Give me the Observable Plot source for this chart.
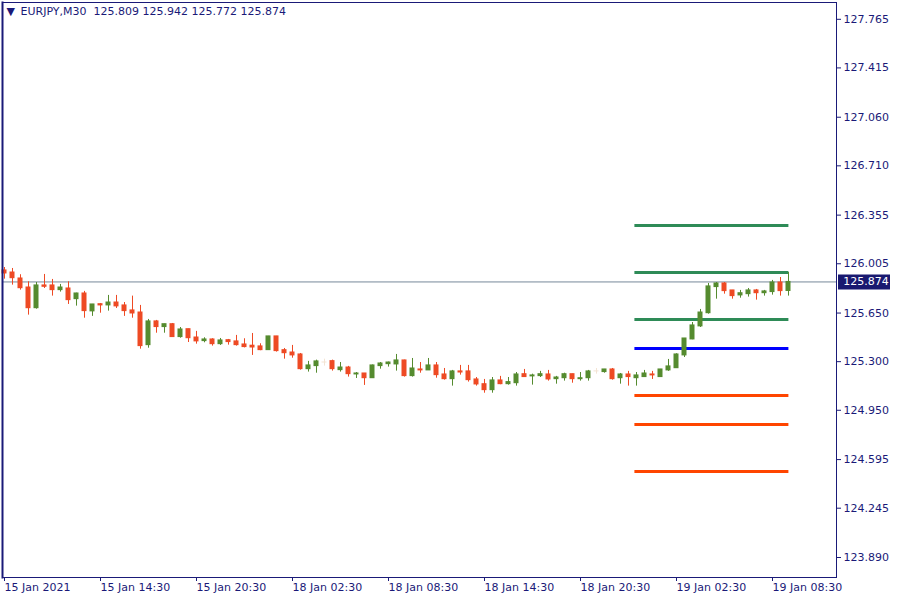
<!DOCTYPE html>
<html><head><meta charset="utf-8">
<script src="https://cdn.jsdelivr.net/npm/d3@7"></script>
<script src="https://cdn.jsdelivr.net/npm/@observablehq/plot@0.6"></script>
<style>html,body{margin:0;padding:0;background:#fff;} #chart svg{display:block}</style>
</head><body><div id="chart"></div>
<script>
const symbol = "EURJPY,M30";
const opens = [125.957,125.942,125.899,125.834,125.685,125.849,125.849,125.815,125.827,125.750,
125.791,125.662,125.714,125.705,125.726,125.705,125.669,125.654,125.419,125.590,
125.549,125.570,125.477,125.534,125.474,125.448,125.460,125.426,125.455,125.446,
125.424,125.415,125.410,125.383,125.482,125.383,125.366,125.352,125.246,125.268,
125.294,125.304,125.239,125.258,125.208,125.215,125.181,125.268,125.282,125.280,
125.309,125.196,125.244,125.237,125.273,125.208,125.174,125.230,125.230,125.172,
125.138,125.095,125.165,125.138,125.145,125.210,125.194,125.196,125.208,125.174,
125.181,125.210,125.174,125.181,125.230,125.225,125.244,125.181,125.208,125.181,
125.189,125.208,125.189,125.237,125.253,125.345,125.460,125.554,125.649,125.837,
125.863,125.813,125.777,125.786,125.813,125.793,125.801,125.870,125.809];
const highs = [125.978,125.971,125.926,125.875,125.870,125.928,125.892,125.856,125.875,125.793,
125.806,125.712,125.719,125.777,125.777,125.726,125.772,125.705,125.604,125.597,
125.570,125.575,125.546,125.534,125.518,125.472,125.465,125.467,125.460,125.489,
125.465,125.503,125.429,125.482,125.482,125.395,125.417,125.359,125.302,125.311,
125.318,125.311,125.294,125.266,125.222,125.215,125.276,125.294,125.297,125.352,
125.311,125.323,125.294,125.323,125.294,125.251,125.237,125.273,125.273,125.186,
125.172,125.186,125.194,125.186,125.222,125.244,125.210,125.230,125.237,125.194,
125.217,125.210,125.222,125.237,125.251,125.244,125.251,125.215,125.230,125.222,
125.237,125.230,125.244,125.316,125.357,125.467,125.582,125.676,125.863,125.870,
125.870,125.813,125.813,125.827,125.820,125.813,125.885,125.906,125.942];
const lows = [125.894,125.851,125.815,125.635,125.678,125.827,125.772,125.801,125.712,125.700,
125.613,125.626,125.649,125.664,125.683,125.626,125.613,125.390,125.397,125.505,
125.505,125.474,125.469,125.438,125.426,125.436,125.412,125.417,125.419,125.412,
125.399,125.345,125.379,125.381,125.369,125.318,125.325,125.239,125.225,125.217,
125.268,125.232,125.225,125.189,125.179,125.129,125.181,125.246,125.261,125.232,
125.189,125.189,125.217,125.237,125.181,125.167,125.124,125.203,125.153,125.124,
125.073,125.073,125.134,125.131,125.124,125.186,125.131,125.186,125.160,125.138,
125.160,125.145,125.160,125.160,125.210,125.217,125.167,125.138,125.124,125.124,
125.189,125.172,125.189,125.230,125.251,125.330,125.458,125.546,125.642,125.750,
125.786,125.750,125.757,125.765,125.743,125.772,125.779,125.772,125.772];
const closes = [125.935,125.901,125.829,125.685,125.849,125.839,125.815,125.834,125.743,125.791,
125.664,125.712,125.705,125.726,125.698,125.664,125.647,125.412,125.590,125.549,
125.570,125.477,125.532,125.469,125.446,125.460,125.426,125.453,125.441,125.419,
125.405,125.402,125.383,125.482,125.376,125.361,125.345,125.246,125.273,125.302,
125.294,125.246,125.258,125.210,125.215,125.181,125.273,125.287,125.294,125.309,
125.196,125.251,125.237,125.273,125.203,125.174,125.230,125.222,125.167,125.136,
125.095,125.165,125.138,125.153,125.208,125.189,125.201,125.210,125.172,125.186,
125.210,125.174,125.181,125.230,125.230,125.244,125.174,125.208,125.189,125.201,
125.215,125.201,125.244,125.266,125.352,125.467,125.561,125.654,125.842,125.863,
125.808,125.772,125.793,125.813,125.793,125.806,125.870,125.808,125.874];

const xTickBars = [0, 12, 24, 36, 48, 60, 72, 84, 96];
const xTickLabels = ["15 Jan 2021","15 Jan 14:30","15 Jan 20:30","18 Jan 02:30","18 Jan 08:30","18 Jan 14:30","18 Jan 20:30","19 Jan 02:30","19 Jan 08:30"];
const yTicks = [123.890,124.245,124.595,124.950,125.300,125.650,126.005,126.355,126.710,127.060,127.415,127.765];

const levelValues = [126.281, 125.942, 125.604, 125.395, 125.057, 124.848, 124.510];
const levelColors = ["#2e8b57","#2e8b57","#2e8b57","#0000ff","#ff4500","#ff4500","#ff4500"];
const levelFromBar = 78.8, levelToBar = 98.05;

const bullColor = "#558b2f", bearColor = "#ee4a24", dojiColor = "#f3e4d4";
const navy = "#1a1a78";

const candles = opens.map((o, i) => ({i, o, h: highs[i], l: lows[i], c: closes[i],
  col: o > closes[i] ? bearColor : (o < closes[i] ? bullColor : dojiColor)}));
const levels = levelValues.map((v, k) => ({v, color: levelColors[k]}));
const last = candles[candles.length - 1];
const labelMap = new Map(xTickBars.map((b, k) => [b, xTickLabels[k]]));
const header = `${symbol}\u00a0\u00a0${last.o.toFixed(3)} ${last.h.toFixed(3)} ${last.l.toFixed(3)} ${last.c.toFixed(3)}`;

const chart = Plot.plot({
  width: 900, height: 600,
  marginLeft: 2, marginRight: 64, marginTop: 2, marginBottom: 23,
  style: {fontFamily: "DejaVu Sans", fontSize: "11px", background: "#fff", color: navy},
  x: {type: "linear", domain: [-0.25, 104], label: null},
  y: {domain: [123.746, 127.886], label: null},
  color: {type: "identity"},
  marks: [
    Plot.ruleY([last.c], {stroke: "#778899", strokeWidth: 1}),
    Plot.ruleY(levels, {y: "v", x1: levelFromBar, x2: levelToBar, stroke: "color", strokeWidth: 3}),
    Plot.ruleX(candles, {x: "i", y1: "l", y2: "h", stroke: "col", strokeWidth: 1}),
    Plot.rect(candles, {x1: d => d.i - 0.3125, x2: d => d.i + 0.3125,
      y1: d => Math.min(d.o, d.c), y2: d => Math.max(d.o, d.c),
      fill: "col", insetTop: -0.5, insetBottom: -0.5}),
    Plot.frame({stroke: navy}),
    Plot.frame({anchor: "left", stroke: navy, strokeWidth: 2}),
    Plot.axisX(xTickBars, {anchor: "bottom", tickSize: 4, tickPadding: 2, textAnchor: "start", dx: 0,
      tickFormat: d => labelMap.get(d), color: navy, fontSize: 11}),
    Plot.axisY(yTicks, {anchor: "right", tickSize: 4, tickPadding: 3, textAnchor: "start",
      tickFormat: d => d.toFixed(3), color: navy, fontSize: 11}),
    Plot.ruleY([last.c], {x1: 104.25, x2: 110.75, stroke: "#191970", strokeWidth: 15}),
    Plot.text([last.c], {x: 104.85, y: d => d, text: d => d.toFixed(3), fill: "white", textAnchor: "start", fontSize: 11}),
    Plot.text(["\u25BC"], {frameAnchor: "top-left", dx: 4, dy: 5, fontSize: 11, textAnchor: "start", lineAnchor: "top", fill: navy}),
    Plot.text([header], {frameAnchor: "top-left", dx: 18, dy: 5, textAnchor: "start", lineAnchor: "top", fill: navy, fontSize: 11})
  ]
});
document.getElementById("chart").appendChild(chart);
</script>
</body></html>
